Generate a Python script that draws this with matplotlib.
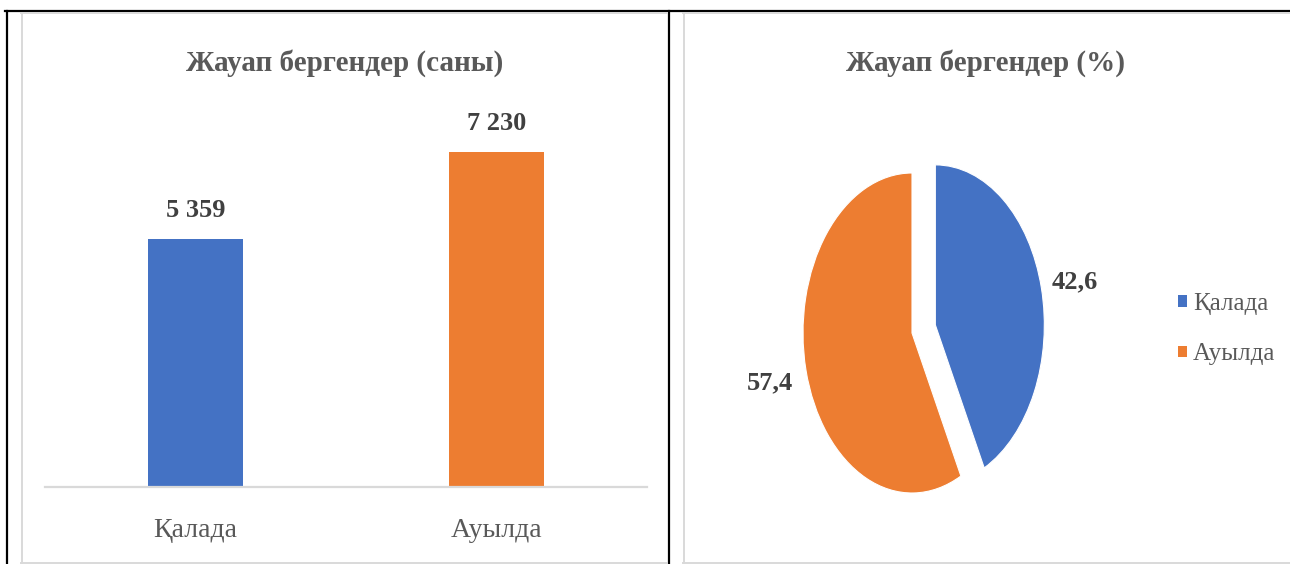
import matplotlib.pyplot as plt
from matplotlib.lines import Line2D
from matplotlib.patches import Patch
import matplotlib

matplotlib.rcParams['font.family'] = ['Liberation Serif', 'DejaVu Serif']

categories = ['Қалада', 'Ауылда']
counts = [5359, 7230]
shares = [42.6, 57.4]
colors = ['#4472C4', '#ED7D31']

TITLE_COLOR = '#595959'
LABEL_COLOR = '#404040'
GRID_GREY = '#D9D9D9'

W, H = 1290, 564
fig = plt.figure(figsize=(W / 100, H / 100), dpi=100)


def px_box(x0, y0, x1, y1):
    # pixel box (top-left origin) -> figure fraction rect
    return [x0 / W, 1 - y1 / H, (x1 - x0) / W, (y1 - y0) / H]


def fline(xs, ys, color, lw):
    fig.add_artist(Line2D([x / W for x in xs], [1 - y / H for y in ys],
                          transform=fig.transFigure, color=color, lw=lw))


# frame lines around both charts
fline([5, 1290], [11, 11], 'black', 1.6)
fline([6.5, 6.5], [11, 564], 'black', 1.6)
fline([669, 669], [11, 564], 'black', 1.6)
fline([21.5, 21.5], [12.5, 564], GRID_GREY, 1.4)
fline([21, 667], [12.5, 12.5], GRID_GREY, 1.4)
fline([21, 667], [563, 563], GRID_GREY, 1.4)
fline([683.5, 683.5], [12.5, 564], GRID_GREY, 1.4)
fline([683, 1290], [12.5, 12.5], GRID_GREY, 1.4)
fline([683, 1290], [563, 563], GRID_GREY, 1.4)

# --- bar chart: respondents count ---
ymax = 8000
top_px = 487 - 335 * ymax / 7230
ax1 = fig.add_axes(px_box(45, top_px, 647, 487))
bars = ax1.bar(range(len(categories)), counts, width=0.315, color=colors)
ax1.set_xlim(-0.5, 1.5)
ax1.set_ylim(0, ymax)
for s in ['top', 'right', 'left']:
    ax1.spines[s].set_visible(False)
ax1.spines['bottom'].set_color(GRID_GREY)
ax1.spines['bottom'].set_linewidth(1.6)
ax1.set_yticks([])
ax1.set_xticks(range(len(categories)), categories)
ax1.tick_params(axis='x', length=0, pad=22, labelsize=20, labelcolor=TITLE_COLOR)
ax1.bar_label(bars, labels=[f"{v:,}".replace(',', ' ') for v in counts],
              padding=12, fontsize=19, fontweight='bold', color=LABEL_COLOR)
fig.text(345 / W, 1 - 63 / H, 'Жауап бергендер (саны)', ha='center', va='center',
         fontsize=21, fontweight='bold', color=TITLE_COLOR)

# --- pie chart: respondents share ---
rx, ry = 109, 160
cx, cy = 912, 333
xl, yl = 1.6, 1.25
ax2 = fig.add_axes(px_box(cx - xl * rx, cy - yl * ry, cx + xl * rx, cy + yl * ry))
wedges, _ = ax2.pie(shares, colors=colors, startangle=90, counterclock=False,
                    explode=(0.22, 0), wedgeprops={'edgecolor': 'white', 'linewidth': 0.8})
ax2.set_aspect('auto')
ax2.set_xlim(-xl, xl)
ax2.set_ylim(-yl, yl)
ax2.axis('off')
label_pos = [(1.49, 0.32), (-1.30, -0.31)]
for v, (x, y) in zip(shares, label_pos):
    ax2.text(x, y, f"{v:.1f}".replace('.', ','), ha='center', va='center',
             fontsize=19, fontweight='bold', color=LABEL_COLOR)

handles = [Patch(facecolor=c, edgecolor='none') for c in colors]
fig.legend(handles, categories, loc='center left',
           bbox_to_anchor=(1178 / W, 1 - 329 / H), frameon=False,
           fontsize=18, labelcolor=TITLE_COLOR, handlelength=0.35, handleheight=0.35,
           handletextpad=0.25, labelspacing=1.15, borderpad=0, borderaxespad=0)
fig.text(986 / W, 1 - 63 / H, 'Жауап бергендер (%)', ha='center', va='center',
         fontsize=21, fontweight='bold', color=TITLE_COLOR)

fig.savefig('out.png', dpi=100)
